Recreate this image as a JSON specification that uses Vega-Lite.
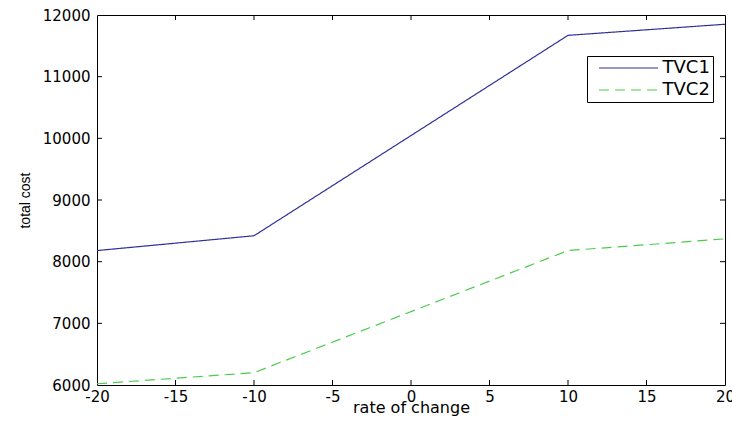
{
  "$schema": "https://vega.github.io/schema/vega-lite/v6.json",
  "width": 628,
  "height": 370,
  "autosize": {"type": "none"},
  "padding": {"left": 97, "top": 15, "right": 7, "bottom": 40},
  "background": "white",
  "datasets": {
    "costs": [
      {"rate": -20, "cost": 8180, "series": "TVC1"},
      {"rate": -10, "cost": 8420, "series": "TVC1"},
      {"rate": 10, "cost": 11670, "series": "TVC1"},
      {"rate": 20, "cost": 11850, "series": "TVC1"},
      {"rate": -20, "cost": 6020, "series": "TVC2"},
      {"rate": -10, "cost": 6200, "series": "TVC2"},
      {"rate": 10, "cost": 8180, "series": "TVC2"},
      {"rate": 20, "cost": 8370, "series": "TVC2"}
    ],
    "xticks": [{"v": -15}, {"v": -10}, {"v": -5}, {"v": 0}, {"v": 5}, {"v": 10}, {"v": 15}],
    "yticks": [{"v": 7000}, {"v": 8000}, {"v": 9000}, {"v": 10000}, {"v": 11000}]
  },
  "config": {
    "view": {"stroke": "#000", "strokeWidth": 1},
    "axis": {
      "grid": false,
      "labelColor": "#000",
      "titleColor": "#000",
      "labelFont": "DejaVu Sans",
      "titleFont": "DejaVu Sans",
      "labelFontSize": 15,
      "titleFontWeight": "normal"
    }
  },
  "layer": [
    {
      "data": {"name": "costs"},
      "mark": {"type": "line", "strokeWidth": 1.2},
      "encoding": {
        "x": {
          "field": "rate", "type": "quantitative",
          "scale": {"domain": [-20, 20], "nice": false, "zero": false},
          "axis": {"title": "rate of change", "values": [-20, -15, -10, -5, 0, 5, 10, 15, 20], "labelExpr": "'' + datum.value", "ticks": false, "domain": false, "labelPadding": 4, "titlePadding": -5, "titleFontSize": 16, "labelFlush": false}
        },
        "y": {
          "field": "cost", "type": "quantitative",
          "scale": {"domain": [6000, 12000], "nice": false, "zero": false},
          "axis": {"title": "total cost", "values": [6000, 7000, 8000, 9000, 10000, 11000, 12000], "labelExpr": "'' + datum.value", "ticks": false, "domain": false, "labelPadding": 7, "titlePadding": 10, "titleFont": "Liberation Sans", "titleFontSize": 14, "labelFlush": false}
        },
        "color": {
          "field": "series", "type": "nominal",
          "scale": {"domain": ["TVC1", "TVC2"], "range": ["#30309a", "#4ccc4c"]},
          "legend": {"title": null, "orient": "none", "legendX": 490, "legendY": 41, "strokeColor": "#000", "fillColor": "#fff", "padding": 3, "symbolType": "M-4.92,0H4.92", "symbolSize": 144, "symbolStrokeWidth": 1.2, "symbolOffset": 29.5, "labelOffset": 25, "labelFont": "DejaVu Sans", "labelFontSize": 18, "labelColor": "#000", "rowPadding": 4, "labelExpr": "datum.label + '\u00a0'"}
        },
        "strokeDash": {
          "field": "series", "type": "nominal",
          "scale": {"domain": ["TVC1", "TVC2"], "range": [[1, 0], [10, 6]]},
          "legend": {"title": null, "orient": "none", "legendX": 490, "legendY": 41, "strokeColor": "#000", "fillColor": "#fff", "padding": 3, "symbolType": "M-4.92,0H4.92", "symbolSize": 144, "symbolStrokeWidth": 1.2, "symbolOffset": 29.5, "labelOffset": 25, "labelFont": "DejaVu Sans", "labelFontSize": 18, "labelColor": "#000", "rowPadding": 4, "labelExpr": "datum.label + '\u00a0'"}
        }
      }
    },
    {
      "data": {"name": "xticks"},
      "mark": {"type": "tick", "orient": "vertical", "size": 5, "thickness": 1, "color": "#000", "opacity": 1, "yOffset": -2.5},
      "encoding": {
        "x": {"field": "v", "type": "quantitative", "axis": null},
        "y": {"datum": 6000, "type": "quantitative", "axis": null}
      }
    },
    {
      "data": {"name": "xticks"},
      "mark": {"type": "tick", "orient": "vertical", "size": 5, "thickness": 1, "color": "#000", "opacity": 1, "yOffset": 2.5},
      "encoding": {
        "x": {"field": "v", "type": "quantitative", "axis": null},
        "y": {"datum": 12000, "type": "quantitative", "axis": null}
      }
    },
    {
      "data": {"name": "yticks"},
      "mark": {"type": "tick", "orient": "horizontal", "size": 5, "thickness": 1, "color": "#000", "opacity": 1, "xOffset": 2.5},
      "encoding": {
        "y": {"field": "v", "type": "quantitative", "axis": null},
        "x": {"datum": -20, "type": "quantitative", "axis": null}
      }
    },
    {
      "data": {"name": "yticks"},
      "mark": {"type": "tick", "orient": "horizontal", "size": 5, "thickness": 1, "color": "#000", "opacity": 1, "xOffset": -2.5},
      "encoding": {
        "y": {"field": "v", "type": "quantitative", "axis": null},
        "x": {"datum": 20, "type": "quantitative", "axis": null}
      }
    }
  ],
  "resolve": {"axis": {"x": "independent", "y": "independent"}}
}
